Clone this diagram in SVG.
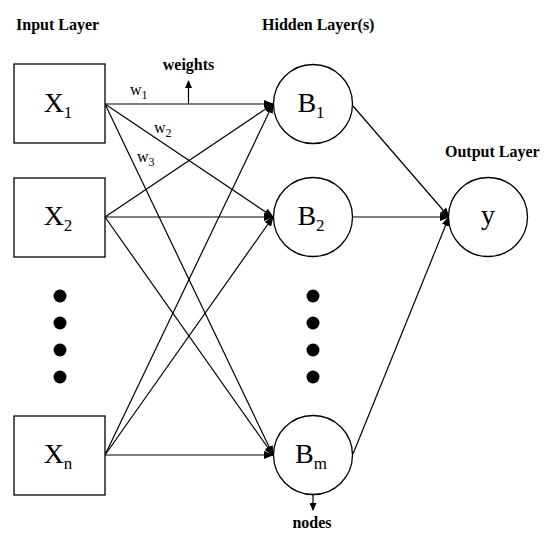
<svg xmlns="http://www.w3.org/2000/svg" width="550" height="537" viewBox="0 0 550 537">
<style>
.box{fill:#fff;stroke:#000;stroke-width:1.3}
.node{fill:#fff;stroke:#000;stroke-width:1.3}
.edge{fill:none;stroke:#000;stroke-width:1.2}
.title{font-family:"Liberation Serif",serif;font-weight:bold;font-size:16px;fill:#000}
.big{font-family:"Liberation Serif",serif;font-size:28px;fill:#000}
.sub{font-size:17px}
.w{font-family:"Liberation Serif",serif;font-size:16px;fill:#000}
.wsub{font-size:12px}
.dot{fill:#000}
</style>
<defs>
<marker id="ah" markerUnits="userSpaceOnUse" markerWidth="10" markerHeight="8" refX="9" refY="4" orient="auto">
<path d="M0,0 L10,4 L0,8 z" fill="#000"/>
</marker>
<marker id="ahs" markerUnits="userSpaceOnUse" markerWidth="8" markerHeight="7" refX="7" refY="3.5" orient="auto">
<path d="M0,0 L8,3.5 L0,7 z" fill="#000"/>
</marker>
</defs>
<rect width="550" height="537" fill="#fff"/>
<text class="title" x="16" y="30">Input Layer</text>
<text class="title" x="262" y="30">Hidden Layer(s)</text>
<text class="title" x="445" y="157">Output Layer</text>
<g id="connectors">
<line class="edge" x1="105" y1="104" x2="273" y2="104" marker-end="url(#ah)"/>
<line class="edge" x1="105" y1="104" x2="273" y2="217" marker-end="url(#ah)"/>
<line class="edge" x1="105" y1="104" x2="273" y2="455" marker-end="url(#ah)"/>
<line class="edge" x1="105" y1="217" x2="273" y2="104" marker-end="url(#ah)"/>
<line class="edge" x1="105" y1="217" x2="273" y2="217" marker-end="url(#ah)"/>
<line class="edge" x1="105" y1="217" x2="273" y2="455" marker-end="url(#ah)"/>
<line class="edge" x1="105" y1="455" x2="273" y2="104" marker-end="url(#ah)"/>
<line class="edge" x1="105" y1="455" x2="273" y2="217" marker-end="url(#ah)"/>
<line class="edge" x1="105" y1="455" x2="273" y2="455" marker-end="url(#ah)"/>
<line class="edge" x1="353" y1="106" x2="449" y2="217" marker-end="url(#ah)"/>
<line class="edge" x1="353" y1="217" x2="449" y2="217" marker-end="url(#ah)"/>
<line class="edge" x1="353" y1="454" x2="449" y2="217" marker-end="url(#ah)"/>
<line class="edge" x1="188.5" y1="104" x2="188.5" y2="81" marker-end="url(#ahs)"/>
<line class="edge" x1="313" y1="495" x2="313" y2="510" marker-end="url(#ahs)"/>
</g>
<text class="title" x="188.5" y="70" text-anchor="middle">weights</text>
<text class="title" x="312" y="528" text-anchor="middle">nodes</text>
<text class="w" x="130" y="95">w<tspan class="wsub" dy="4">1</tspan></text>
<text class="w" x="154" y="133">w<tspan class="wsub" dy="4">2</tspan></text>
<text class="w" x="137" y="162">w<tspan class="wsub" dy="4">3</tspan></text>
<g id="x1"><rect class="box" x="14" y="64" width="91" height="79"/><text class="big" x="58" y="112" text-anchor="middle">X<tspan class="sub" dy="6">1</tspan></text></g>
<g id="x2"><rect class="box" x="14" y="178" width="91" height="79"/><text class="big" x="58" y="225" text-anchor="middle">X<tspan class="sub" dy="6">2</tspan></text></g>
<g id="xdots"><circle class="dot" cx="60" cy="296" r="6.5"/><circle class="dot" cx="60" cy="323" r="6.5"/><circle class="dot" cx="60" cy="350" r="6.5"/><circle class="dot" cx="60" cy="377" r="6.5"/></g>
<g id="xn"><rect class="box" x="14" y="416" width="91" height="79"/><text class="big" x="58" y="463" text-anchor="middle">X<tspan class="sub" dy="6">n</tspan></text></g>
<g id="b1"><circle class="node" cx="313" cy="104" r="39.5"/><text class="big" x="311" y="112" text-anchor="middle">B<tspan class="sub" dy="6">1</tspan></text></g>
<g id="b2"><circle class="node" cx="313" cy="217" r="39.5"/><text class="big" x="311" y="225" text-anchor="middle">B<tspan class="sub" dy="6">2</tspan></text></g>
<g id="bdots"><circle class="dot" cx="313" cy="296" r="6.5"/><circle class="dot" cx="313" cy="323" r="6.5"/><circle class="dot" cx="313" cy="350" r="6.5"/><circle class="dot" cx="313" cy="377" r="6.5"/></g>
<g id="bm"><circle class="node" cx="313" cy="455" r="39.5"/><text class="big" x="311" y="463" text-anchor="middle">B<tspan class="sub" dy="6">m</tspan></text></g>
<g id="y"><circle class="node" cx="488" cy="217" r="39.5"/><text class="big" x="488" y="224" text-anchor="middle">y</text></g>
</svg>
